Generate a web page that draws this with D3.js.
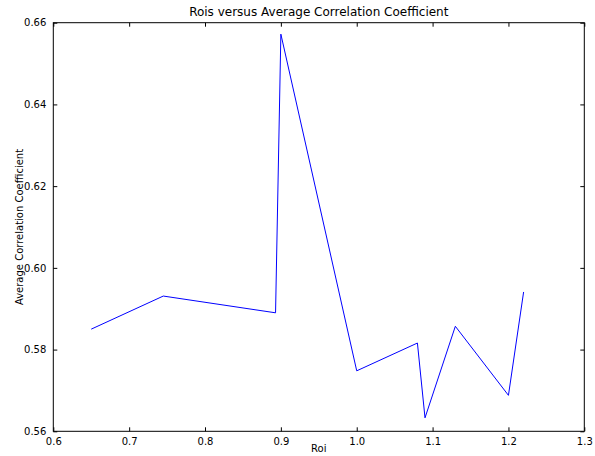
<!DOCTYPE html>
<html><head><meta charset="utf-8">
<script src="https://cdn.jsdelivr.net/npm/d3@7"></script>
<style>body{margin:0;background:#fff}svg{display:block}text{font-family:"DejaVu Sans",sans-serif;fill:#000}</style>
</head><body><svg id="c" width="595" height="456"></svg>
<script>
const roi = [0.65, 0.745, 0.893, 0.90, 1.00, 1.08, 1.09, 1.13, 1.20, 1.22];
const corr = [0.5850, 0.5931, 0.5890, 0.6572, 0.5748, 0.5816, 0.5633, 0.5857, 0.5688, 0.5941];
const xTicks = [0.6, 0.7, 0.8, 0.9, 1.0, 1.1, 1.2, 1.3];
const yTicks = [0.56, 0.58, 0.60, 0.62, 0.64, 0.66];

const svg = d3.select("#c");
const L = 53.3, R = 584.3, T = 22.7, B = 431.3;
const x = d3.scaleLinear().domain([0.6, 1.3]).range([L, R]);
const y = d3.scaleLinear().domain([0.56, 0.66]).range([B, T]);

const line = d3.line().x((d, i) => x(roi[i])).y(d => y(d));
svg.append("path").datum(corr).attr("d", line)
  .attr("fill", "none").attr("stroke", "#0000ff").attr("stroke-width", 1);

const fmtX = d3.format(".1f"), fmtY = d3.format(".2f");
const tl = 4;
function styleAxis(g){ g.select(".domain").remove(); g.selectAll("line").attr("stroke","#000"); g.selectAll("text").attr("font-size",10).style("font-family","DejaVu Sans"); }

svg.append("g").attr("transform", `translate(0,${B})`)
  .call(d3.axisBottom(x).tickValues(xTicks).tickFormat(fmtX).tickSizeInner(-tl).tickSizeOuter(0).tickPadding(7))
  .call(styleAxis);
svg.append("g").attr("transform", `translate(0,${T})`)
  .call(d3.axisTop(x).tickValues(xTicks).tickFormat("").tickSizeInner(-tl).tickSizeOuter(0))
  .call(styleAxis);
svg.append("g").attr("transform", `translate(${L},0)`)
  .call(d3.axisLeft(y).tickValues(yTicks).tickFormat(fmtY).tickSizeInner(-tl).tickSizeOuter(0).tickPadding(7))
  .call(styleAxis);
svg.append("g").attr("transform", `translate(${R},0)`)
  .call(d3.axisRight(y).tickValues(yTicks).tickFormat("").tickSizeInner(-tl).tickSizeOuter(0))
  .call(styleAxis);

svg.append("rect").attr("x", L).attr("y", T).attr("width", R - L).attr("height", B - T)
  .attr("fill", "none").attr("stroke", "#000").attr("stroke-width", 1);

svg.append("text").attr("x", (L + R) / 2).attr("y", 16).attr("text-anchor", "middle")
  .attr("font-size", 12).text("Rois versus Average Correlation Coefficient");
svg.append("text").attr("x", (L + R) / 2).attr("y", 452).attr("text-anchor", "middle")
  .attr("font-size", 10).text("Roi");
svg.append("text").attr("transform", `translate(23,${(T + B) / 2}) rotate(-90)`).attr("text-anchor", "middle")
  .attr("font-size", 10).text("Average Correlation Coefficient");
</script></body></html>
